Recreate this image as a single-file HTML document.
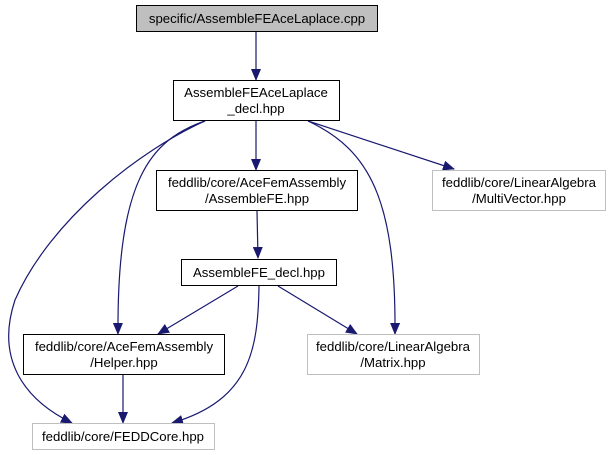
<!DOCTYPE html>
<html><head><meta charset="utf-8"><style>
body{margin:0;background:#fff;}
svg{display:block;font-family:"Liberation Sans",Arial,sans-serif;font-size:13.2px;}
</style></head><body>
<svg width="608" height="455" viewBox="0 0 608 455" xmlns="http://www.w3.org/2000/svg">
<defs><marker id="a" markerWidth="12" markerHeight="10" refX="11" refY="5" orient="auto" markerUnits="userSpaceOnUse"><path d="M0,0 L12,5 L0,10 Z" fill="#191970"/></marker></defs>
<g fill="none" stroke="#191970" stroke-width="1.2" marker-end="url(#a)">
<path d="M256,32 L256,80"/>
<path d="M256,121 L256,170"/>
<path d="M308,121 L454,169"/>
<path d="M205,121 C150,140 117,180 118,334"/>
<path d="M205,121 C140,150 50,220 15,300 C-5,360 25,400 72,423"/>
<path d="M308,121 C370,150 396,200 395,334"/>
<path d="M257,211 L258,258"/>
<path d="M238,286 L158,334"/>
<path d="M259,286 C258,350 250,400 172,423"/>
<path d="M278,286 L357,334"/>
<path d="M123,375 L123,423"/>
</g>
<g stroke-width="1">
<rect x="136.5" y="5.5" width="241" height="26" fill="#bfbfbf" stroke="#000"/>
<rect x="173.5" y="80.5" width="166" height="40" fill="#fff" stroke="#000"/>
<rect x="156.5" y="170.5" width="201" height="40" fill="#fff" stroke="#000"/>
<rect x="432.5" y="170.5" width="173" height="40" fill="#fff" stroke="#bfbfbf"/>
<rect x="181.5" y="259.5" width="155" height="26" fill="#fff" stroke="#000"/>
<rect x="23.5" y="334.5" width="201" height="40" fill="#fff" stroke="#000"/>
<rect x="307.5" y="334.5" width="172" height="40" fill="#fff" stroke="#bfbfbf"/>
<rect x="32.5" y="423.5" width="182" height="26" fill="#fff" stroke="#bfbfbf"/>
</g>
<g fill="#000" text-anchor="middle">
<text x="257" y="23">specific/AssembleFEAceLaplace.cpp</text>
<text x="256" y="97">AssembleFEAceLaplace</text>
<text x="256" y="113">_decl.hpp</text>
<text x="257" y="187">feddlib/core/AceFemAssembly</text>
<text x="257" y="203">/AssembleFE.hpp</text>
<text x="519" y="187">feddlib/core/LinearAlgebra</text>
<text x="519" y="203">/MultiVector.hpp</text>
<text x="259" y="277">AssembleFE_decl.hpp</text>
<text x="124" y="351">feddlib/core/AceFemAssembly</text>
<text x="124" y="367">/Helper.hpp</text>
<text x="393" y="351">feddlib/core/LinearAlgebra</text>
<text x="393" y="367">/Matrix.hpp</text>
<text x="123" y="441">feddlib/core/FEDDCore.hpp</text>
</g>
</svg>
</body></html>
